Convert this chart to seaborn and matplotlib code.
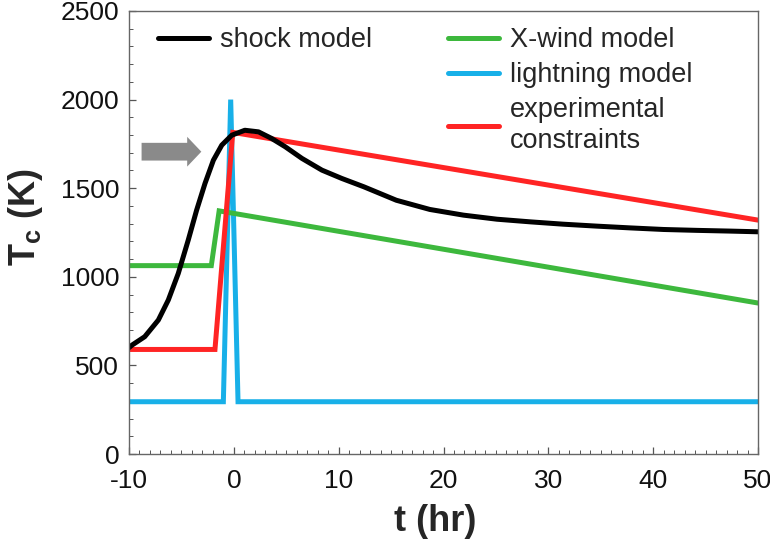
import numpy as np
import pandas as pd
import matplotlib
matplotlib.use("Agg")
import matplotlib.pyplot as plt
from matplotlib.lines import Line2D
from matplotlib.ticker import MultipleLocator
import seaborn as sns

# ---------------- data ----------------
shock_t = [-10, -9.7, -8.5, -7.2, -6.25, -5.3, -4.35, -3.55, -2.75, -1.95, -1.15,
           -0.2, 1.05, 2.35, 3.6, 4.9, 6.5, 8.4, 10.3, 12.4, 15.5, 18.7, 21.9,
           25.1, 28.3, 31.4, 34.6, 37.8, 41.0, 44.2, 47.3, 50]
shock_T = [600, 615, 662, 756, 869, 1019, 1207, 1376, 1527, 1658, 1743,
           1799, 1827, 1818, 1781, 1734, 1668, 1602, 1555, 1508, 1432, 1380, 1348,
           1325, 1310, 1297, 1286, 1276, 1267, 1262, 1258, 1254]

xwind_t = [-10, -2.15, -1.4, 50]
xwind_T = [1063, 1063, 1372, 852]

lightning_t = [-10, -1.0, -0.3, 0.4, 50]
lightning_T = [295, 295, 2000, 295, 295]

exp_t = [-10, -1.8, -0.1, 50]
exp_T = [590, 590, 1815, 1320]

series_names = ["shock model", "X-wind model", "lightning model", "experimental\nconstraints"]
series_colors = ["#000000", "#3db83d", "#18b0e8", "#ff2424"]

x_ticks = [-10, 0, 10, 20, 30, 40, 50]
y_ticks = [0, 500, 1000, 1500, 2000, 2500]

# arrow annotation (gray block arrow)
arrow_start_t, arrow_end_t, arrow_T = -8.8, -3.1, 1706

# ---------------- frame ----------------
frames = []
for name, t, T in [(series_names[0], shock_t, shock_T),
                   (series_names[1], xwind_t, xwind_T),
                   (series_names[2], lightning_t, lightning_T),
                   (series_names[3], exp_t, exp_T)]:
    frames.append(pd.DataFrame({"t": t, "T": T, "model": name}))
df = pd.concat(frames, ignore_index=True)

sns.set_theme(style="white")
plt.rcParams["font.family"] = ["Liberation Sans", "DejaVu Sans"]
plt.rcParams["mathtext.default"] = "regular"

fig = plt.figure(figsize=(7.7, 5.44), dpi=100)
ax = fig.add_axes([129 / 770, 1 - 454 / 544, (758 - 129) / 770, (454 - 11) / 544])

palette = dict(zip(series_names, series_colors))
# draw order: lightning, x-wind, experimental, shock on top
for name in [series_names[2], series_names[1], series_names[3], series_names[0]]:
    sub = df[df["model"] == name]
    sns.lineplot(data=sub, x="t", y="T", color=palette[name], lw=3.6,
                 estimator=None, sort=False, ax=ax, legend=False,
                 solid_joinstyle="miter" if name != series_names[0] else "round")

ax.arrow(arrow_start_t, arrow_T, arrow_end_t - arrow_start_t, 0,
         width=100, head_width=168, head_length=1.35, length_includes_head=True,
         color="#8a8a8a", ec="none", zorder=5)

ax.set_xlim(-10, 50)
ax.set_ylim(0, 2500)
ax.set_xticks(x_ticks)
ax.set_yticks(y_ticks)
ax.set_xticklabels([str(v) for v in x_ticks])
ax.set_yticklabels([str(v) for v in y_ticks])
ax.xaxis.set_minor_locator(MultipleLocator(1))
ax.yaxis.set_minor_locator(MultipleLocator(100))
ax.tick_params(axis="both", which="major", direction="in", length=5, width=0.9,
               color="#555555", labelsize=19, labelcolor="#111111", pad=7,
               bottom=True, left=True)
ax.tick_params(axis="x", which="major", pad=11)
ax.tick_params(axis="both", which="minor", direction="in", length=3, width=0.7,
               color="#555555", bottom=True, left=True)
for s in ax.spines.values():
    s.set_color("#666666")
    s.set_linewidth(1.0)

ax.set_xlabel("t (hr)", fontsize=26, fontweight="bold")
ax.set_ylabel(r"T$_\mathregular{c}$ (K)", fontsize=26, fontweight="bold")
ax.xaxis.set_label_coords(0.487, -0.113)
ax.yaxis.set_label_coords(-0.134, 0.535)

def handle(c):
    return Line2D([], [], color=c, lw=3.6)

leg1 = ax.legend([handle(series_colors[0])], [series_names[0]], loc="upper left",
                 bbox_to_anchor=(0.046, 0.963), frameon=False, fontsize=19.5,
                 handlelength=1.9, handletextpad=0.4, borderpad=0, borderaxespad=0)
ax.add_artist(leg1)
leg2 = ax.legend([handle(c) for c in series_colors[1:]], series_names[1:], loc="upper left",
                 bbox_to_anchor=(0.507, 0.963), frameon=False, fontsize=19.5,
                 handlelength=1.9, handletextpad=0.4, borderpad=0, borderaxespad=0,
                 labelspacing=0.33)
for txt in leg2.get_texts():
    txt.set_linespacing(1.25)

fig.savefig("out.png", dpi=100)
